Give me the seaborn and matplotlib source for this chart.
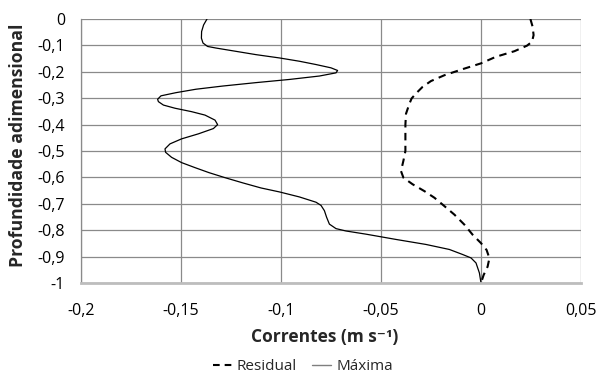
import matplotlib
matplotlib.use("Agg")
import matplotlib.pyplot as plt
import seaborn as sns
import pandas as pd
from matplotlib.ticker import FuncFormatter
from matplotlib.lines import Line2D

# Depth (dimensionless) and currents (m/s)
maxima_depth = [0.0, -0.0225, -0.0475, -0.0725, -0.091, -0.104, -0.11, -0.1225, -0.135,
                -0.1475, -0.16, -0.1725, -0.185, -0.195, -0.204, -0.216, -0.229, -0.241,
                -0.254, -0.266, -0.279, -0.291, -0.304, -0.313, -0.326, -0.338, -0.351,
                -0.364, -0.383, -0.4, -0.415, -0.435, -0.454, -0.473, -0.492, -0.505,
                -0.524, -0.544, -0.563, -0.582, -0.601, -0.621, -0.64, -0.655, -0.674,
                -0.694, -0.706, -0.726, -0.751, -0.777, -0.794, -0.803, -0.815, -0.835,
                -0.854, -0.873, -0.892, -0.905, -0.924, -0.962, -1.0]
maxima_vel = [-0.137, -0.1387, -0.1397, -0.1398, -0.139, -0.1367, -0.1325, -0.1225, -0.1125,
              -0.1008, -0.0908, -0.0825, -0.075, -0.0717, -0.0725, -0.0808, -0.0958, -0.1125,
              -0.1292, -0.1425, -0.1525, -0.16, -0.1617, -0.1613, -0.1588, -0.153, -0.1447,
              -0.138, -0.133, -0.1317, -0.1338, -0.1413, -0.1497, -0.1555, -0.158, -0.1577,
              -0.1547, -0.1497, -0.143, -0.136, -0.128, -0.119, -0.11, -0.1008, -0.0908,
              -0.0825, -0.08, -0.0783, -0.0772, -0.0758, -0.0725, -0.0675, -0.0575, -0.0425,
              -0.0275, -0.0158, -0.0092, -0.005, -0.0025, -0.0008, 0.0]

residual_depth = [0.0, -0.029, -0.061, -0.086, -0.101, -0.122, -0.143, -0.168, -0.19,
                  -0.213, -0.235, -0.257, -0.282, -0.301, -0.321, -0.359, -0.4, -0.448,
                  -0.5, -0.537, -0.576, -0.601, -0.626, -0.652, -0.677, -0.703, -0.741,
                  -0.779, -0.817, -0.849, -0.875, -0.906, -0.938, -0.97, -1.0]
residual_vel = [0.0247, 0.0258, 0.0263, 0.0255, 0.023, 0.0167, 0.0075, 0.0, -0.0092,
                -0.0183, -0.025, -0.0292, -0.0325, -0.0347, -0.0358, -0.0375, -0.0378, -0.0378,
                -0.0378, -0.0388, -0.04, -0.0388, -0.0342, -0.0283, -0.0233, -0.0192, -0.0133,
                -0.0083, -0.0042, 0.0, 0.0028, 0.0042, 0.0033, 0.0013, 0.0]

xticks = [-0.2, -0.15, -0.1, -0.05, 0, 0.05]
yticks = [0, -0.1, -0.2, -0.3, -0.4, -0.5, -0.6, -0.7, -0.8, -0.9, -1]

sns.set_theme(style="white")
plt.rcParams['font.family'] = ['Open Sans', 'DejaVu Sans']
plt.rcParams['axes.unicode_minus'] = False

fig = plt.figure(figsize=(5.98, 3.75), dpi=100)
ax = fig.add_axes([81/598, 1-283/375, 500/598, 264/375])

df_res = pd.DataFrame({"x": residual_vel, "y": residual_depth})
df_max = pd.DataFrame({"x": maxima_vel, "y": maxima_depth})

sns.lineplot(data=df_res, x="x", y="y", sort=False, ax=ax, color="black",
             linewidth=1.5, estimator=None)
ax.lines[-1].set_dashes([3.6, 2.6])
ax.lines[-1].set_solid_joinstyle("round")
sns.lineplot(data=df_max, x="x", y="y", sort=False, ax=ax, color="black",
             linewidth=0.9, estimator=None)
ax.lines[-1].set_solid_joinstyle("round")

ax.set_xlim(-0.2, 0.05)
ax.set_ylim(-1, 0)
ax.set_xticks(xticks)
ax.set_yticks(yticks)

def fmt(v, pos):
    s = f"{v:g}"
    if s == "-0":
        s = "0"
    return s.replace(".", ",")

ax.xaxis.set_major_formatter(FuncFormatter(fmt))
ax.yaxis.set_major_formatter(FuncFormatter(fmt))

ax.grid(True, color="#8a8a8a", linewidth=0.9)
ax.set_axisbelow(True)
for side in ("top", "right"):
    ax.spines[side].set_visible(False)
ax.spines["left"].set_color("#8a8a8a")
ax.spines["left"].set_linewidth(0.9)
ax.spines["bottom"].set_color("#bdbdbd")
ax.spines["bottom"].set_linewidth(2.0)

ax.tick_params(axis="both", which="both", direction="out", length=5.5, width=0.9,
               color="#8a8a8a", labelsize=11.5, labelcolor="black")
ax.tick_params(axis="x", pad=9)
ax.tick_params(axis="y", pad=6)

ax.set_xlabel("Correntes (m s⁻¹)", fontsize=12.5, fontweight="bold")
ax.set_ylabel("Profundidade adimensional", fontsize=12.7, fontweight="bold")
ax.xaxis.set_label_coords((325-81)/500, (283-337)/264)
ax.xaxis.label.set_verticalalignment("center")
ax.yaxis.set_label_coords((18-81)/500, 0.52)
ax.yaxis.label.set_verticalalignment("center")

handles = [Line2D([0], [0], color="black", linewidth=1.5, dashes=[3.2, 2.4]),
           Line2D([0], [0], color="#7f7f7f", linewidth=1.0)]
fig.legend(handles, ["Residual", "Máxima"], loc="center", bbox_to_anchor=(303/598, 1-367/375),
           ncol=2, frameon=False, fontsize=11, handlelength=1.2, handletextpad=0.35,
           columnspacing=1.0, borderpad=0.1)

fig.savefig("out.png", dpi=100)
